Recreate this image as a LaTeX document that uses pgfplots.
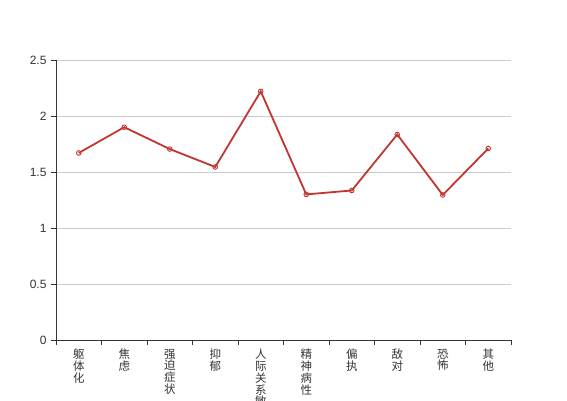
\documentclass[border=0pt]{standalone}
\usepackage{pgfplots}
\pgfplotsset{compat=1.18}
\usepackage{fontspec}
\setmainfont{Liberation Sans}
\newfontfamily\cjk{Noto Sans CJK SC}
\definecolor{ln}{HTML}{C23531}
\definecolor{ax}{HTML}{333333}
\definecolor{gr}{HTML}{CCCCCC}
\begin{document}
\begin{tikzpicture}[x=1pt,y=1pt]
\path[use as bounding box] (0,0) rectangle (567,400);
\clip (0,0) rectangle (567,400);
\begin{axis}[
  at={(56pt,60pt)}, anchor=south west,
  scale only axis, width=455pt, height=280pt,
  xmin=-0.5, xmax=9.5, ymin=0, ymax=2.5,
  axis x line*=bottom, axis y line*=left,
  axis line style={ax, line width=0.8pt, -},
  xtick={-0.5,0.5,...,9.5},
  x tick label as interval,
  xticklabels={{躯\\体\\化},{焦\\虑},{强\\迫\\症\\状},{抑\\郁},{人\\际\\关\\系\\敏\\感},{精\\神\\病\\性},{偏\\执},{敌\\对},{恐\\怖},{其\\他}},
  xticklabel style={font=\cjk\fontsize{11.5}{11.8}\selectfont, align=center, text=ax, anchor=north, yshift=-0.5pt},
  ytick={0,0.5,...,2.5},
  yticklabel style={font=\fontsize{12}{14}\selectfont, text=ax, xshift=-1pt},
  yticklabel={\pgfmathprintnumber[assume math mode=true]{\tick}},
  tick align=outside, major tick length=5pt,
  tick style={ax, line width=0.8pt},
  ymajorgrids, grid style={gr, line width=0.8pt},
  clip=false,
]
\addplot[ln, line width=1.8pt, mark=o, mark size=2.3pt, mark options={fill=white, line width=0.9pt}] coordinates {
(0,1.67) (1,1.90) (2,1.705) (3,1.545) (4,2.22) (5,1.30) (6,1.335) (7,1.835) (8,1.295) (9,1.71)
};
\end{axis}
\end{tikzpicture}
\end{document}
